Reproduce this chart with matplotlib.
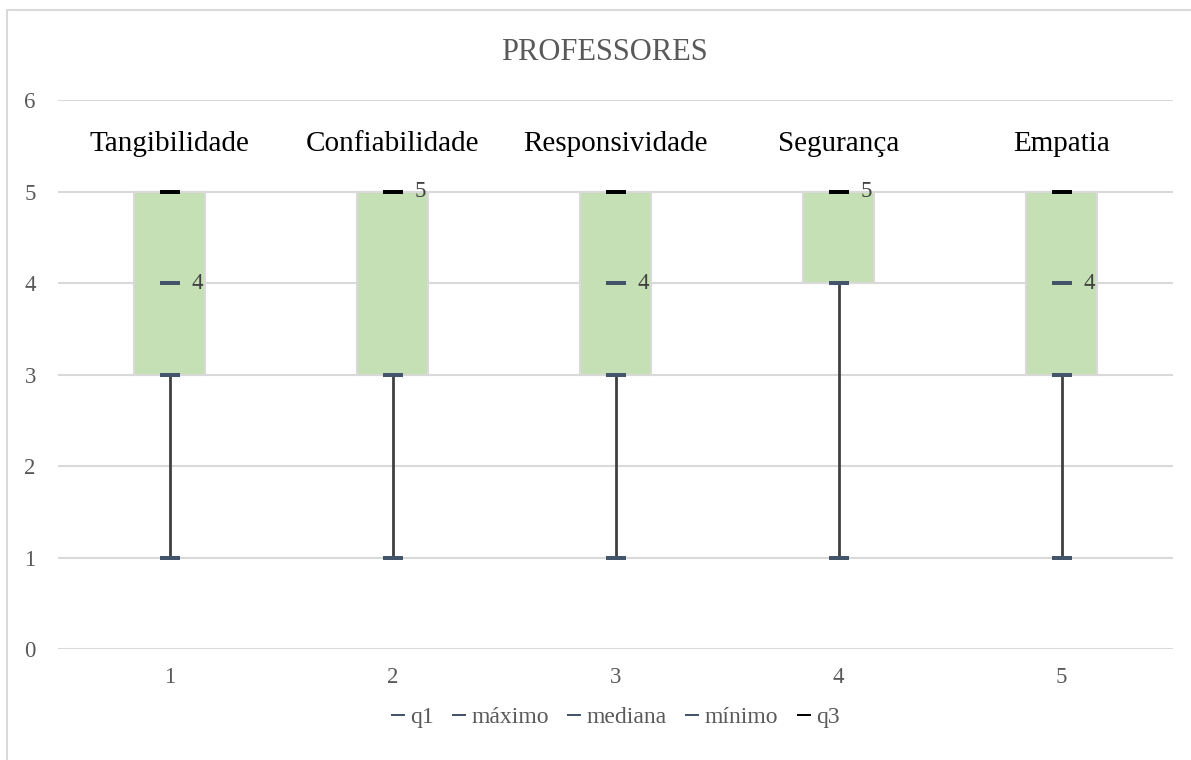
import numpy as np
import matplotlib
matplotlib.use('Agg')
import matplotlib.pyplot as plt
from matplotlib.lines import Line2D
from matplotlib.patches import Rectangle

plt.rcParams['font.family'] = ['Liberation Serif', 'DejaVu Serif']

# dados (escala 1-5)
dimensoes = ['Tangibilidade', 'Confiabilidade', 'Responsividade', 'Segurança', 'Empatia']
x_labels = ['1', '2', '3', '4', '5']
q1 = [3, 3, 3, 4, 3]
maximo = [5, 5, 5, 5, 5]
mediana = [4, 5, 4, 5, 4]
minimo = [1, 1, 1, 1, 1]
q3 = [5, 5, 5, 5, 5]

W, H = 1191, 760
fig = plt.figure(figsize=(W / 100, H / 100), dpi=100)
ax = fig.add_axes([58 / W, 1 - 649 / H, (1173 - 58) / W, (649 - 100) / H])

x = np.arange(1, len(dimensoes) + 1)
cinza = '#D9D9D9'
azul = '#44546A'

# grade
ax.set_ylim(0, 6)
ax.set_xlim(0.5, 5.5)
ax.set_yticks(range(0, 7))
ax.yaxis.grid(True, color=cinza, lw=1.5, zorder=0)
for s in ax.spines.values():
    s.set_visible(False)
ax.tick_params(length=0, labelsize=16.5, colors='#595959', pad=16)
ax.tick_params(axis='x', pad=13)
ax.set_xticks(x)
ax.set_xticklabels(x_labels)

# linhas min-max
ax.vlines(x, minimo, maximo, color='#404040', lw=2, zorder=2)

# caixas q1-q3
ax.bar(x, np.array(q3) - np.array(q1), bottom=q1, width=0.32,
       color='#C5E0B4', edgecolor=cinza, lw=1.5, zorder=3)

# marcadores tipo traço
traco = [(-2.4, -0.5), (2.4, -0.5), (2.4, 0.5), (-2.4, 0.5), (-2.4, -0.5)]
series = [('q1', q1, azul), ('máximo', maximo, azul), ('mediana', mediana, azul),
          ('mínimo', minimo, azul), ('q3', q3, 'black')]
handles = []
for nome, vals, cor in series:
    ax.plot(x, vals, ls='none', marker=traco, ms=14, mew=0, color=cor, zorder=5)
    handles.append(Line2D([], [], ls='none', marker=traco, ms=9.5, mew=0, color=cor, label=nome))

# rótulos da mediana
for xi, m in zip(x, mediana):
    ax.annotate(str(m), (xi, m), xytext=(16, 0), textcoords='offset points',
                va='center', ha='left', fontsize=16.5, color='#404040', zorder=6)

# nomes das dimensões
for xi, nome in zip(x, dimensoes):
    ax.text(xi, 5.52, nome, ha='center', va='center', fontsize=21, color='black')

fig.text(604 / W, 1 - 52 / H, 'PROFESSORES', ha='center', va='center',
         fontsize=22, color='#595959')

fig.legend(handles=handles, loc='center', bbox_to_anchor=(616 / W, 1 - 717 / H), ncol=5,
           frameon=False, fontsize=17, handlelength=0.45, handletextpad=0.3,
           columnspacing=0.85, labelcolor='#595959')

# moldura do gráfico
fig.patches.append(Rectangle((7 / W, -0.1), 1.2, 1 - 10 / H + 0.1, transform=fig.transFigure,
                             fill=False, edgecolor=cinza, lw=1.5))

fig.savefig('out.png', dpi=100)
